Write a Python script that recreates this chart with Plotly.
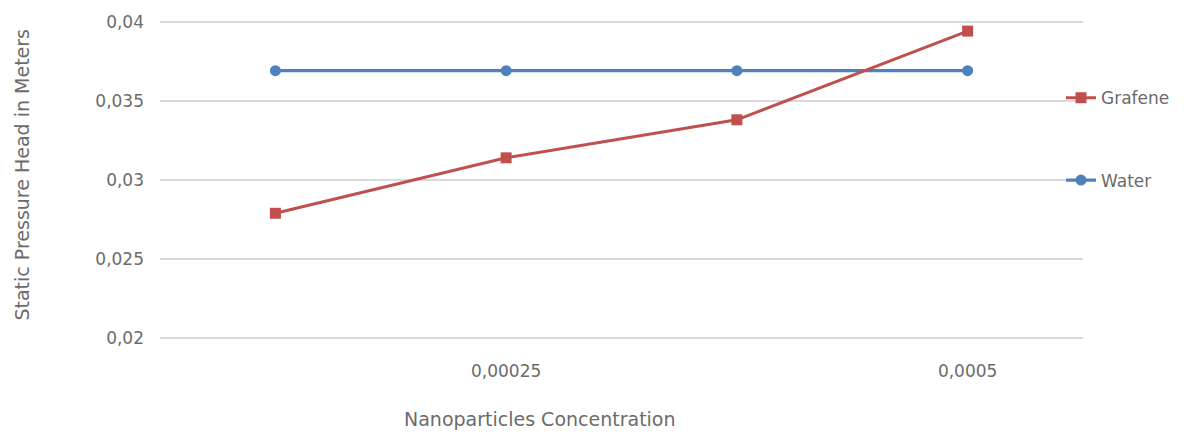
import plotly.graph_objects as go

# Nanoparticle concentrations (category axis) and measured static pressure head
concentrations = ["0,000125", "0,00025", "0,000375", "0,0005"]
grafene = [0.0279, 0.0314, 0.0338, 0.0394]
water = [0.0369, 0.0369, 0.0369, 0.0369]

x_tick_vals = ["0,00025", "0,0005"]
x_tick_text = ["0,00025", "0,0005"]
y_tick_vals = [0.02, 0.025, 0.03, 0.035, 0.04]
y_tick_text = ["0,02", "0,025", "0,03", "0,035", "0,04"]

FONT = "DejaVu Sans"
TEXT_COLOR = "#6b6b6b"

W, H = 1187, 434
M_L, M_R, M_T, M_B = 160, 104, 17, 94
PW, PH = W - M_L - M_R, H - M_T - M_B


def px_x(px):
    return (px - M_L) / PW


def px_y(py):
    return (H - M_B - py) / PH


fig = go.Figure()

fig.add_trace(go.Scatter(
    x=concentrations, y=water, name="Water", mode="lines+markers",
    line=dict(color="#4F81BD", width=3.25),
    marker=dict(symbol="circle", size=11, color="#4F81BD"),
    legend="legend2",
))
fig.add_trace(go.Scatter(
    x=concentrations, y=grafene, name="Grafene", mode="lines+markers",
    line=dict(color="#C0504D", width=3),
    marker=dict(symbol="square", size=11, color="#C0504D"),
    legend="legend",
))

legend_common = dict(
    bgcolor="rgba(0,0,0,0)", borderwidth=0,
    font=dict(family=FONT, size=17, color=TEXT_COLOR),
    xanchor="left", yanchor="middle",
)

fig.update_layout(
    width=W, height=H,
    margin=dict(l=M_L, r=M_R, t=M_T, b=M_B),
    paper_bgcolor="white", plot_bgcolor="white",
    font=dict(family=FONT, size=17, color=TEXT_COLOR),
    showlegend=True,
    legend=dict(x=px_x(1061), y=px_y(96), **legend_common),
    legend2=dict(x=px_x(1061), y=px_y(179), **legend_common),
    xaxis=dict(
        type="category", range=[-0.5, 3.5],
        tickmode="array", tickvals=x_tick_vals, ticktext=x_tick_text,
        showgrid=False, showline=False, zeroline=False, ticks="",
        ticklabelstandoff=19,
        tickfont=dict(family=FONT, size=17, color=TEXT_COLOR),
    ),
    yaxis=dict(
        range=[0.0199, 0.0401],
        tickmode="array", tickvals=y_tick_vals, ticktext=y_tick_text,
        showgrid=True, gridcolor="#D9D9D9", gridwidth=1.5,
        showline=False, zeroline=False, ticks="",
        ticklabelstandoff=15,
        tickfont=dict(family=FONT, size=17, color=TEXT_COLOR),
    ),
    annotations=[
        dict(text="Static Pressure Head in Meters", textangle=-90,
             xref="paper", yref="paper", x=px_x(22), y=px_y(173),
             xanchor="center", yanchor="middle", showarrow=False,
             font=dict(family=FONT, size=19, color=TEXT_COLOR)),
        dict(text="Nanoparticles Concentration",
             xref="paper", yref="paper", x=px_x(540), y=px_y(420),
             xanchor="center", yanchor="middle", showarrow=False,
             font=dict(family=FONT, size=19, color=TEXT_COLOR)),
    ],
)

fig.write_html("out.html")
